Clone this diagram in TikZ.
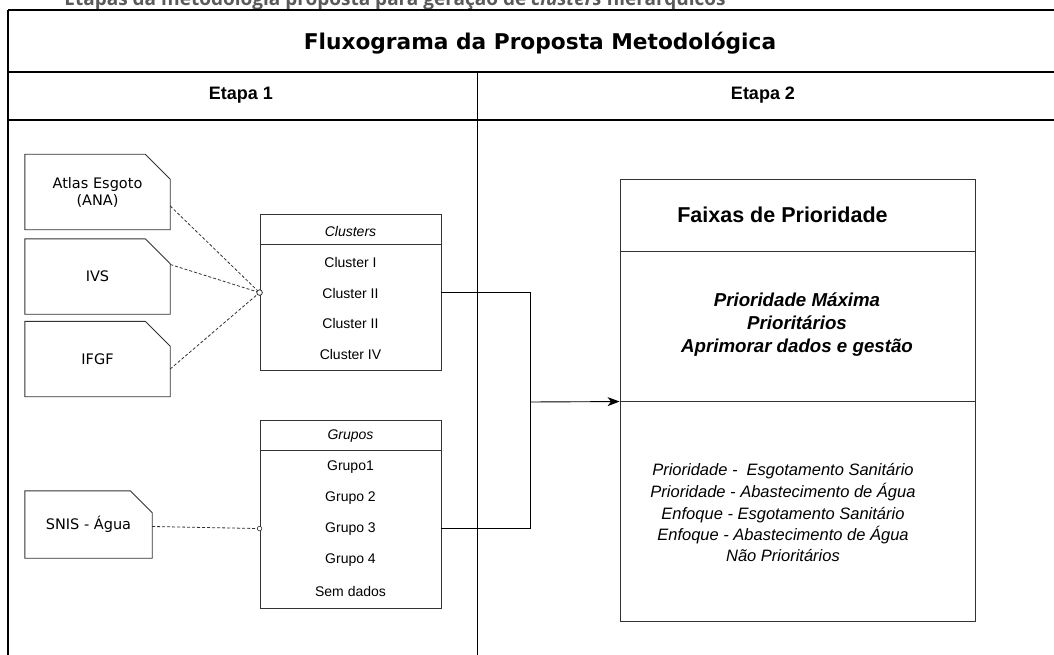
\documentclass[tikz,border=0pt]{standalone}
\usepackage{fontspec}
\setmainfont{Liberation Sans}
\newfontfamily\docfont{DejaVu Sans}
\newfontfamily\capfont{Open Sans}
\usetikzlibrary{calc}
\usetikzlibrary{arrows,arrows.meta}
\definecolor{boxline}{HTML}{333333}
\definecolor{captiongray}{HTML}{5A5A5A}
\tikzset{
  docbox/.style={minimum width=145, minimum height=75, align=center, font=\docfont\fontsize{14.5}{17}\selectfont},
  rowtext/.style={font=\fontsize{14}{16}\selectfont, inner sep=0},
  tablebox/.style={draw=boxline, line width=.9, minimum width=181},
  faixatext/.style={align=center, font=\itshape\fontsize{16.5}{21.5}\selectfont, inner sep=0},
  dashlink/.style={boxline, dashed, dash pattern=on 3pt off 2pt, line width=.8},
}

\begin{document}
\begin{tikzpicture}[x=1pt, y=-1pt]
\useasboundingbox (0,0) rectangle (1054,655);
\clip (0,0) rectangle (1054,655);
\fill[white] (0,0) rectangle (1054,655);
\node[anchor=base, text=captiongray, font=\capfont\bfseries\fontsize{19}{21}\selectfont] (caption) at (395,5.5) {Etapas da metodologia proposta para geração de \textit{clusters} hierárquicos};
\draw[black, line width=1.3] (8,10) -- (1070,10);
\draw[black, line width=1.3] (8,10) -- (8,670);
\draw[black, line width=1.3] (8,72) -- (1070,72);
\draw[black, line width=1.3] (8,120) -- (1070,120);
\draw[black, line width=1] (477,72) -- (477,670);
\node[font=\docfont\bfseries\fontsize{21.7}{25}\selectfont] (title) at (540,43) {Fluxograma da Proposta Metodológica};
\node[font=\bfseries\fontsize{18}{20}\selectfont] (etapa1) at (241,95) {Etapa 1};
\node[font=\bfseries\fontsize{18}{20}\selectfont] (etapa2) at (763,95) {Etapa 2};
\node[docbox] (atlas) at (97.5,192) {Atlas Esgoto\\(ANA)};
\node[docbox] (ivs) at (97.5,276.5) {IVS};
\node[docbox] (ifgf) at (97.5,359) {IFGF};
\node[docbox, minimum width=127, minimum height=67] (snis) at (88.5,524.5) {SNIS - Água};
\foreach \n/\f in {atlas/25, ivs/25, ifgf/25, snis/22} {
 \draw[boxline, line width=.9] (\n.north west) -- ([xshift=-\f pt]\n.north east) -- ([yshift=-\f pt]\n.north east) -- (\n.south east) -- (\n.south west) -- cycle;
}
\node[tablebox, minimum height=156] (clusters) at (350.5,292) {};
\draw[boxline, line width=.9] ([yshift=-31pt]clusters.north west) -- ([yshift=-31pt]clusters.north east);
\node[rowtext, font=\itshape\fontsize{14}{16}\selectfont] (cluhead) at (350.5,231) {Clusters};
\foreach \t/\y/\m in {Cluster I/262/c1, Cluster II/293/c2, Cluster II/323/c3, Cluster IV/354/c4} {
 \node[rowtext] (\m) at (350.5,\y) {\t};
}
\node[tablebox, minimum height=188] (grupos) at (350.5,514) {};
\draw[boxline, line width=.9] ([yshift=-31pt]grupos.north west) -- ([yshift=-31pt]grupos.north east);
\node[rowtext, font=\itshape\fontsize{14}{16}\selectfont] (gruhead) at (350.5,436) {Grupos};
\foreach \t/\y/\m in {Grupo1/467/g1, Grupo 2/498/g2, Grupo 3/529/g3, Grupo 4/560/g4, Sem dados/591/g5} {
 \node[rowtext] (\m) at (350.5,\y) {\t};
}
\node[draw=boxline, line width=.9, minimum width=355, minimum height=442] (faixas) at (797.5,400) {};
\draw[boxline, line width=.9] ([yshift=-73pt]faixas.north west) -- ([yshift=-73pt]faixas.north east);
\draw[boxline, line width=.9] ([yshift=-223pt]faixas.north west) -- ([yshift=-223pt]faixas.north east) coordinate (fxmid);
\coordinate (fxin) at ([yshift=-223pt]faixas.north west);
\node[font=\bfseries\fontsize{21.5}{24}\selectfont] (fxhead) at (782.5,215) {Faixas de Prioridade};
\node[faixatext, font=\bfseries\itshape\fontsize{18.7}{23}\selectfont] (fxtop) at (797,325) {Prioridade Máxima\\Prioritários\\Aprimorar dados e gestão};
\node[faixatext] (fxlow) at (783,513) {Prioridade -~~Esgotamento Sanitário\\Prioridade - Abastecimento de Água\\Enfoque - Esgotamento Sanitário\\Enfoque - Abastecimento de Água\\Não Prioritários};
\coordinate (cluin) at ([yshift=-79pt]clusters.north west);
\coordinate (gruin) at ([yshift=-109pt]grupos.north west);
\draw[dashlink] ([yshift=-14pt]atlas.east) -- (cluin);
\draw[dashlink] ([yshift=12pt]ivs.east) -- (cluin);
\draw[dashlink] ([yshift=-10pt]ifgf.east) -- (cluin);
\draw[dashlink] ([yshift=-2pt]snis.east) -- (gruin);
\draw[boxline, fill=white, line width=.8] (cluin) circle (2.8);
\draw[boxline, fill=white, line width=.6] (gruin) circle (2.3);
\coordinate (cluout) at ([yshift=-79pt]clusters.north east);
\coordinate (gruout) at ([yshift=-109pt]grupos.north east);
\coordinate (join) at (530,402);
\draw[black, line width=.9] (cluout) -| (join);
\draw[black, line width=.9] (gruout) -| (join);
\draw[black, line width=.9, -{Stealth[length=12pt, width=9pt, inset=3.5pt]}] (join) -- (fxin);
\end{tikzpicture}
\end{document}
